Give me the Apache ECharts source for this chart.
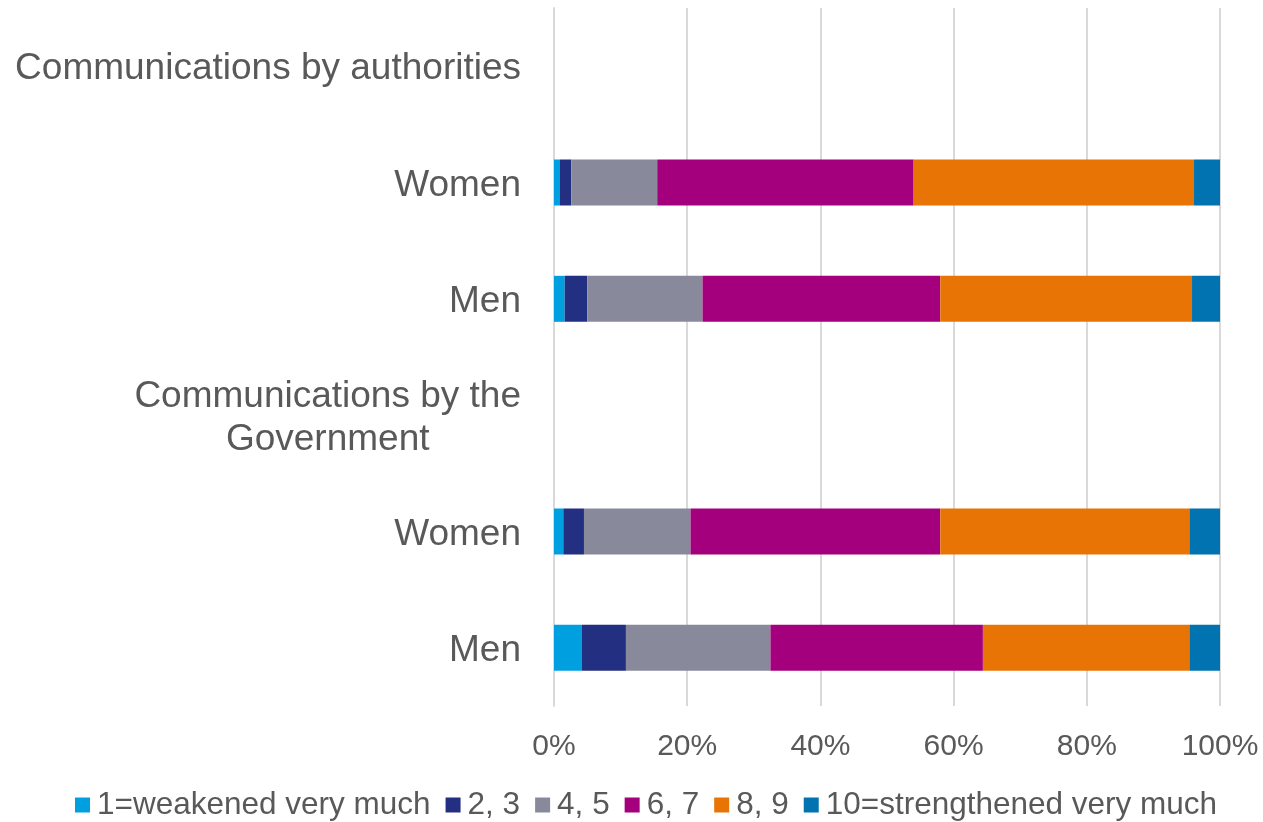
<!DOCTYPE html>
<html>
<head>
<meta charset="utf-8">
<script src="https://cdn.jsdelivr.net/npm/echarts@6/dist/echarts.min.js"></script>
<style>html,body{margin:0;padding:0;background:#fff;}#c{width:1263px;height:822px;}</style>
</head>
<body>
<div id="c"></div>
<script>
const categories = ["Communications by authorities", "Women", "Men", "Communications by the\nGovernment", "Women", "Men"];
const seriesNames = ["1=weakened very much", "2, 3", "4, 5", "6, 7", "8, 9", "10=strengthened very much"];
const s1 = [null, 0.9, 1.6, null, 1.4, 4.2];
const s23 = [null, 1.7, 3.4, null, 3.1, 6.6];
const s45 = [null, 12.9, 17.3, null, 16.0, 21.7];
const s67 = [null, 38.5, 35.7, null, 37.5, 31.9];
const s89 = [null, 42.1, 37.8, null, 37.4, 31.0];
const s10 = [null, 3.9, 4.2, null, 4.6, 4.6];
const xTicks = [0, 20, 40, 60, 80, 100];
const colors = ["#00a0e0", "#232f80", "#888a9b", "#a4007e", "#e97406", "#0073b0"];

const allData = [s1, s23, s45, s67, s89, s10];
const chart = echarts.init(document.getElementById('c'));
chart.setOption({
  animation: false,
  textStyle: { fontFamily: 'Liberation Sans, Arial, sans-serif', color: '#595959' },
  grid: { left: 554, right: 43, top: 8, bottom: 116, containLabel: false },
  legend: {
    top: 784, left: 70,
    icon: 'rect', itemWidth: 15, itemHeight: 15, itemGap: 15,
    textStyle: { fontSize: 31.5, color: '#595959', padding: [0, 0, 0, 2] },
    data: seriesNames
  },
  xAxis: {
    type: 'value', min: xTicks[0], max: xTicks[xTicks.length - 1], interval: 20,
    axisLine: { show: false }, axisTick: { show: false },
    axisLabel: { fontSize: 30, color: '#595959', margin: 26, formatter: v => v + '%' },
    splitLine: { show: true, lineStyle: { color: '#d9d9d9', width: 2 } }
  },
  yAxis: {
    type: 'category', data: categories, inverse: true,
    axisLine: { show: true, lineStyle: { color: '#d9d9d9', width: 2 } },
    axisTick: { show: false },
    axisLabel: {
      margin: 33, align: 'right', padding: [6, 0, 0, 0],
      formatter: v => v.split('\n').map(l => '{c|' + l + '}').join('\n'),
      rich: { c: { fontSize: 37, color: '#595959', lineHeight: 43, align: 'center',
                   fontFamily: 'Liberation Sans, Arial, sans-serif' } }
    }
  },
  series: seriesNames.map((n, i) => ({
    name: n, type: 'bar', stack: 'total', barWidth: 46,
    itemStyle: { color: colors[i] },
    data: allData[i]
  }))
});
</script>
</body>
</html>
